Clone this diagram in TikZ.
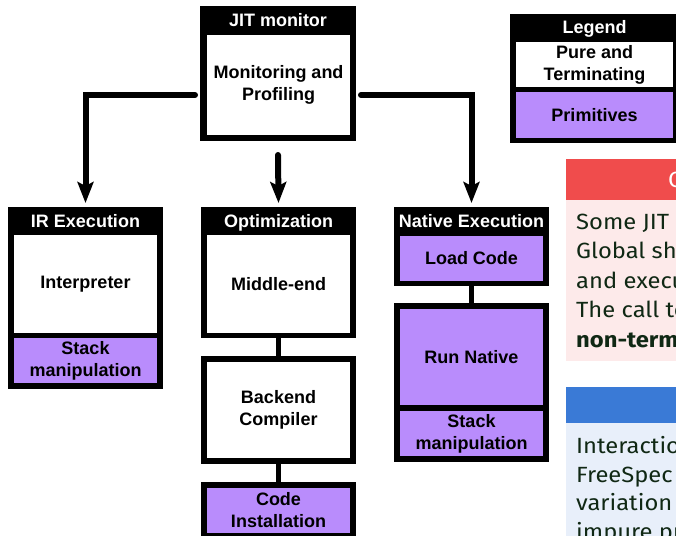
\documentclass[tikz,border=0pt]{standalone}
\usepackage{fontspec}
\setmainfont{Liberation Sans}
\newfontfamily\notefont{Fira Sans}[FakeStretch=1.08]
\usetikzlibrary{arrows.meta}

\definecolor{prim}{RGB}{185,140,252}
\definecolor{warnhead}{RGB}{240,76,76}
\definecolor{warnbody}{RGB}{253,234,234}
\definecolor{infohead}{RGB}{58,122,214}
\definecolor{infobody}{RGB}{232,239,250}
\definecolor{notetext}{RGB}{16,40,20}

\tikzset{
  box/.style 2 args={anchor=north west, inner sep=0pt, outer sep=0pt,
    minimum width=#1pt, minimum height=#2pt},
  frame/.style={fill=black, draw=none},
  pure/.style={fill=white, draw=none, align=center,
    font=\bfseries\fontsize{18}{22}\selectfont},
  prim/.style={pure, fill=prim},
  headtxt/.style={text=white, inner sep=0pt, text height=12.9pt, text depth=0pt,
    font=\bfseries\fontsize{18}{22}\selectfont},
  flow/.style={line width=6pt, line cap=round,
    -{Stealth[length=21pt,width=16pt,inset=4pt]}},
  link/.style={line width=5pt},
  notetxt/.style={anchor=north west, inner sep=0pt, align=left, text=notetext},
}

\begin{document}
\begin{tikzpicture}[x=1pt, y=-1pt]
\useasboundingbox (0,0) rectangle (676,535);
\clip (0,0) rectangle (676,535);

% JIT monitor
\node[frame, box={156}{135}] (jit) at (200,6) {};
\node[headtxt] (jith) at (278,20.5) {JIT monitor};
\node[pure, box={143}{100}] (mon) at (207,35) {Monitoring and\\Profiling};

% IR execution
\node[frame, box={155}{182}] (irx) at (8,207) {};
\node[headtxt] (irxh) at (85.5,221) {IR Execution};
\node[pure, box={143}{98}] (interp) at (14,235) {Interpreter};
\node[prim, box={143}{45}] (irstack) at (14,338) {Stack\\manipulation};

% Optimization
\node[frame, box={155}{131}] (opt) at (201,207) {};
\node[headtxt] (opth) at (278.5,221) {Optimization};
\node[pure, box={143}{98}] (mid) at (207,235) {Middle-end};
\node[frame, box={155}{108}] (back) at (201,356) {};
\node[pure, box={143}{96}] (backc) at (207,362) {Backend\\Compiler};
\node[frame, box={155}{57}] (inst) at (201,482) {};
\node[prim, box={143}{45}] (instc) at (207,488) {Code\\Installation};

% Native execution
\node[frame, box={155}{79}] (nat) at (394,207) {};
\node[headtxt] (nath) at (471.5,221) {Native Execution};
\node[prim, box={143}{45}] (load) at (400,236) {Load Code};
\node[frame, box={155}{159}] (run) at (394,303) {};
\node[prim, box={143}{96}] (runc) at (400,309) {Run Native};
\node[prim, box={143}{45}] (natstack) at (400,411) {Stack\\manipulation};

% Legend
\node[frame, box={169}{129}] (leg) at (510,14) {};
\node[headtxt] (legh) at (594.5,27.5) {Legend};
\node[pure, box={157}{45}] (legpure) at (516,42) {Pure and\\Terminating};
\node[prim, box={157}{46}] (legprim) at (516,92) {Primitives};

% links inside the optimization and native columns
\draw[link] (opt.south) -- (back.north);
\draw[link] (back.south) -- (inst.north);
\draw[link] (nat.south) -- (run.north);

% control flow out of the monitor
\coordinate (outl) at (195,95);
\coordinate (outr) at (361,95);
\coordinate (outm) at (278,155);
\draw[flow] (outl) -| ([yshift=4pt]irx.north);
\draw[flow] (outm) -- ([yshift=4pt]opt.north);
\draw[flow] (outr) -| ([yshift=4pt]nat.north);

% warning note
\node[fill=warnhead, box={140}{41}] (warnh) at (566,159) {};
\node[fill=warnbody, box={140}{161}] (warnb) at (566,200) {};
\node[headtxt, anchor=west, font=\notefont\fontsize{22}{26}\selectfont,
  text height=15pt] (warnt) at (668,180) {C};
\node[notetxt, font=\notefont\fontsize{22}{29.5}\selectfont] (warntx) at (576,213.4)
  {Some JIT\\Global shared\\and execution\\The call to\\\textbf{non-terminating}};

% information note
\node[fill=infohead, box={140}{36}] (infoh) at (566,387) {};
\node[fill=infobody, box={140}{150}] (infob) at (566,423) {};
\node[notetxt, font=\notefont\fontsize{22}{28.4}\selectfont] (infotx) at (576,436.5)
  {Interaction\\FreeSpec\\variation\\impure pure};
\end{tikzpicture}
\end{document}
